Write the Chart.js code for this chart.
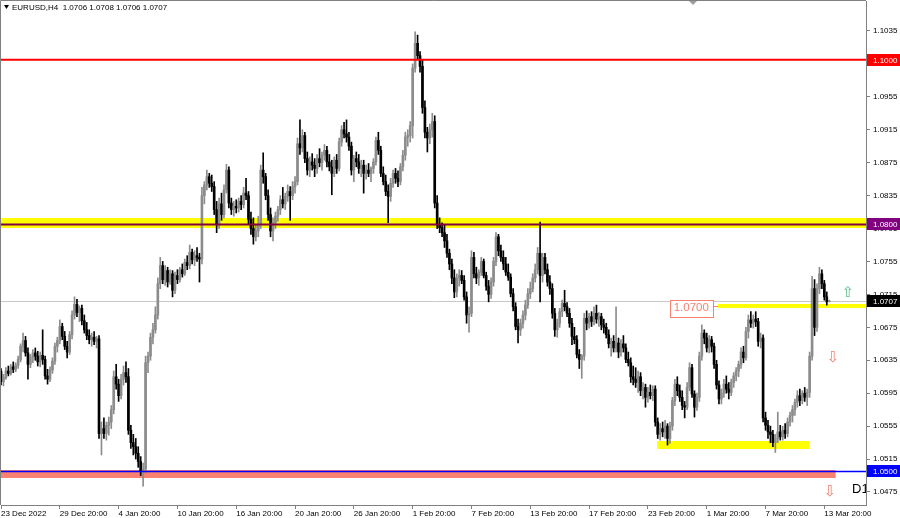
<!DOCTYPE html>
<html><head><meta charset="utf-8">
<script src="https://cdn.jsdelivr.net/npm/chart.js@4.4.1/dist/chart.umd.min.js"></script>
<style>html,body{margin:0;padding:0;background:#fff;}canvas{display:block;}</style>
</head><body>
<canvas id="c" width="900" height="518"></canvas>
<script>
// ---- EURUSD H4 candles ----
const opens = [
1.0622,1.0609,1.0614,1.0622,1.0619,1.0627,1.0624,1.0629,1.0636,1.0652,
1.0659,1.0644,1.0630,1.0638,1.0644,1.0640,1.0633,1.0641,1.0636,1.0616,
1.0612,1.0623,1.0634,1.0652,1.0659,1.0676,1.0664,1.0652,1.0645,1.0666,
1.0690,1.0703,1.0693,1.0698,1.0683,1.0672,1.0665,1.0660,1.0663,1.0658,
1.0661,1.0546,1.0552,1.0546,1.0556,1.0560,1.0575,1.0615,1.0606,1.0592,
1.0612,1.0620,1.0615,1.0550,1.0535,1.0530,1.0522,1.0512,1.0500,1.0503,
1.0632,1.0640,1.0663,1.0672,1.0690,1.0728,1.0750,1.0733,1.0744,1.0730,
1.0740,1.0720,1.0738,1.0733,1.0745,1.0740,1.0754,1.0750,1.0766,1.0757,
1.0762,1.0760,1.0758,1.0835,1.0848,1.0858,1.0850,1.0846,1.0818,1.0800,
1.0825,1.0812,1.0842,1.0866,1.0826,1.0818,1.0822,1.0820,1.0828,1.0824,
1.0838,1.0835,1.0806,1.0795,1.0785,1.0792,1.0800,1.0866,1.0858,1.0835,
1.0812,1.0792,1.0802,1.0810,1.0818,1.0830,1.0825,1.0834,1.0840,1.0835,
1.0846,1.0852,1.0898,1.0893,1.0908,1.0880,1.0866,1.0876,1.0872,1.0868,
1.0880,1.0875,1.0884,1.0890,1.0876,1.0870,1.0862,1.0878,1.0868,1.0900,
1.0915,1.0910,1.0906,1.0895,1.0866,1.0880,1.0876,1.0868,1.0872,1.0862,
1.0866,1.0862,1.0868,1.0876,1.0902,1.0890,1.0862,1.0852,1.0840,1.0834,
1.0850,1.0862,1.0856,1.0852,1.0870,1.0884,1.0906,1.0908,1.0920,1.0990,
1.1020,1.1005,1.0992,1.0942,1.0912,1.0905,1.0915,1.0925,1.0826,1.0800,
1.0796,1.0790,1.0780,1.0765,1.0752,1.0735,1.0718,1.0735,1.0738,1.0732,
1.0712,1.0690,1.0692,1.0760,1.0740,1.0735,1.0742,1.0755,1.0738,1.0725,
1.0715,1.0730,1.0755,1.0785,1.0768,1.0760,1.0752,1.0742,1.0736,1.0716,
1.0700,1.0676,1.0672,1.0680,1.0690,1.0702,1.0716,1.0722,1.0735,1.0745,
1.0765,1.0738,1.0760,1.0745,1.0730,1.0722,1.0692,1.0672,1.0680,1.0694,
1.0704,1.0700,1.0692,1.0680,1.0664,1.0660,1.0642,1.0636,1.0640,1.0686,
1.0680,1.0688,1.0682,1.0692,1.0685,1.0688,1.0678,1.0675,1.0666,1.0655,
1.0658,1.0650,1.0656,1.0645,1.0655,1.0650,1.0636,1.0632,1.0615,1.0612,
1.0608,1.0615,1.0598,1.0602,1.0590,1.0596,1.0592,1.0600,1.0560,1.0545,
1.0552,1.0548,1.0555,1.0540,1.0555,1.0586,1.0606,1.0598,1.0590,1.0580,
1.0578,1.0602,1.0626,1.0594,1.0578,1.0590,1.0640,1.0668,1.0662,1.0650,
1.0660,1.0652,1.0630,1.0605,1.0588,1.0595,1.0606,1.0600,1.0596,1.0608,
1.0616,1.0622,1.0630,1.0645,1.0638,1.0670,1.0684,1.0680,1.0685,1.0682,
1.0658,1.0662,1.0565,1.0556,1.0548,1.0545,1.0535,1.0540,1.0548,1.0542,
1.0550,1.0546,1.0560,1.0568,1.0575,1.0584,1.0592,1.0586,1.0595,1.0590,
1.0596,1.0640,1.0722,1.0675,1.0722,1.0740,1.0728,1.0712,1.0706];
const highs = [
1.0625,1.0618,1.0626,1.0628,1.0630,1.0633,1.0632,1.0640,1.0655,1.0668,
1.0664,1.0650,1.0642,1.0648,1.0650,1.0646,1.0645,1.0672,1.0640,1.0624,
1.0627,1.0638,1.0656,1.0663,1.0684,1.0680,1.0670,1.0658,1.0670,1.0695,
1.0712,1.0709,1.0701,1.0702,1.0690,1.0681,1.0672,1.0668,1.0670,1.0664,
1.0665,1.0560,1.0565,1.0560,1.0566,1.0580,1.0622,1.0630,1.0612,1.0618,
1.0628,1.0633,1.0625,1.0556,1.0545,1.0540,1.0530,1.0518,1.0510,1.0640,
1.0645,1.0668,1.0680,1.0700,1.0735,1.0760,1.0755,1.0750,1.0748,1.0745,
1.0744,1.0742,1.0745,1.0748,1.0752,1.0758,1.0762,1.0775,1.0770,1.0768,
1.0772,1.0765,1.0845,1.0852,1.0866,1.0862,1.0860,1.0852,1.0828,1.0832,
1.0838,1.0848,1.0873,1.0870,1.0832,1.0828,1.0830,1.0832,1.0835,1.0845,
1.0856,1.0840,1.0815,1.0808,1.0800,1.0810,1.0872,1.0887,1.0862,1.0842,
1.0820,1.0808,1.0815,1.0822,1.0835,1.0845,1.0838,1.0848,1.0846,1.0852,
1.0858,1.0905,1.0927,1.0915,1.0912,1.0888,1.0882,1.0886,1.0880,1.0885,
1.0892,1.0888,1.0897,1.0895,1.0885,1.0878,1.0882,1.0885,1.0905,1.0920,
1.0924,1.0927,1.0912,1.0900,1.0884,1.0888,1.0885,1.0878,1.0878,1.0872,
1.0874,1.0870,1.0880,1.0906,1.0912,1.0895,1.0870,1.0860,1.0848,1.0856,
1.0866,1.0868,1.0865,1.0874,1.0890,1.0912,1.0915,1.0925,1.0995,1.1034,
1.1030,1.1010,1.1000,1.0950,1.0918,1.0922,1.0935,1.0932,1.0835,1.0808,
1.0802,1.0800,1.0788,1.0770,1.0758,1.0745,1.0740,1.0745,1.0744,1.0738,
1.0718,1.0700,1.0768,1.0766,1.0748,1.0745,1.0760,1.0758,1.0742,1.0732,
1.0735,1.0760,1.0790,1.0788,1.0775,1.0768,1.0760,1.0752,1.0740,1.0722,
1.0705,1.0685,1.0685,1.0695,1.0708,1.0722,1.0730,1.0740,1.0752,1.0772,
1.0803,1.0765,1.0765,1.0752,1.0738,1.0728,1.0698,1.0685,1.0698,1.0708,
1.0720,1.0705,1.0698,1.0686,1.0675,1.0665,1.0648,1.0642,1.0692,1.0695,
1.0692,1.0694,1.0700,1.0702,1.0693,1.0692,1.0685,1.0680,1.0672,1.0662,
1.0665,1.0700,1.0662,1.0660,1.0665,1.0655,1.0645,1.0638,1.0628,1.0626,
1.0622,1.0620,1.0608,1.0606,1.0602,1.0605,1.0604,1.0604,1.0565,1.0558,
1.0560,1.0562,1.0558,1.0560,1.0590,1.0612,1.0615,1.0605,1.0598,1.0585,
1.0608,1.0632,1.0630,1.0598,1.0595,1.0645,1.0678,1.0672,1.0668,1.0665,
1.0664,1.0656,1.0635,1.0610,1.0600,1.0612,1.0616,1.0608,1.0612,1.0620,
1.0626,1.0634,1.0650,1.0652,1.0675,1.0690,1.0694,1.0690,1.0694,1.0686,
1.0668,1.0666,1.0572,1.0562,1.0555,1.0550,1.0545,1.0572,1.0556,1.0555,
1.0558,1.0565,1.0572,1.0580,1.0588,1.0598,1.0600,1.0598,1.0602,1.0600,
1.0645,1.0737,1.0733,1.0728,1.0748,1.0745,1.0732,1.0718,1.0708];
const lows = [
1.0605,1.0604,1.0612,1.0616,1.0617,1.0620,1.0621,1.0625,1.0633,1.0645,
1.0640,1.0612,1.0626,1.0632,1.0635,1.0628,1.0627,1.0630,1.0612,1.0606,
1.0609,1.0619,1.0630,1.0645,1.0655,1.0660,1.0648,1.0638,1.0642,1.0661,
1.0685,1.0688,1.0682,1.0678,1.0668,1.0660,1.0655,1.0652,1.0654,1.0650,
1.0540,1.0520,1.0540,1.0538,1.0544,1.0552,1.0570,1.0600,1.0585,1.0588,
1.0605,1.0608,1.0545,1.0528,1.0520,1.0515,1.0505,1.0495,1.0482,1.0498,
1.0620,1.0635,1.0655,1.0668,1.0685,1.0722,1.0728,1.0726,1.0724,1.0727,
1.0712,1.0716,1.0728,1.0730,1.0736,1.0738,1.0745,1.0746,1.0752,1.0750,
1.0755,1.0730,1.0752,1.0825,1.0842,1.0845,1.0840,1.0812,1.0790,1.0795,
1.0805,1.0808,1.0838,1.0820,1.0812,1.0810,1.0814,1.0815,1.0818,1.0820,
1.0830,1.0800,1.0788,1.0776,1.0780,1.0785,1.0795,1.0850,1.0830,1.0805,
1.0785,1.0780,1.0795,1.0804,1.0812,1.0820,1.0818,1.0828,1.0805,1.0830,
1.0838,1.0848,1.0885,1.0888,1.0875,1.0860,1.0858,1.0866,1.0858,1.0862,
1.0870,1.0866,1.0878,1.0870,1.0865,1.0836,1.0858,1.0862,1.0865,1.0895,
1.0905,1.0900,1.0890,1.0860,1.0852,1.0870,1.0862,1.0858,1.0838,1.0855,
1.0858,1.0852,1.0862,1.0872,1.0885,1.0858,1.0848,1.0835,1.0802,1.0828,
1.0845,1.0850,1.0846,1.0848,1.0865,1.0878,1.0895,1.0900,1.0905,1.0985,
1.1000,1.0985,1.0935,1.0905,1.0888,1.0898,1.0906,1.0820,1.0795,1.0790,
1.0785,1.0772,1.0760,1.0745,1.0728,1.0711,1.0712,1.0725,1.0728,1.0708,
1.0680,1.0669,1.0688,1.0735,1.0728,1.0726,1.0738,1.0735,1.0720,1.0706,
1.0710,1.0725,1.0750,1.0762,1.0755,1.0745,1.0738,1.0732,1.0712,1.0695,
1.0672,1.0656,1.0665,1.0674,1.0684,1.0698,1.0710,1.0718,1.0730,1.0740,
1.0706,1.0730,1.0740,1.0725,1.0715,1.0686,1.0664,1.0663,1.0675,1.0688,
1.0695,1.0688,1.0675,1.0654,1.0655,1.0638,1.0625,1.0613,1.0635,1.0672,
1.0674,1.0676,1.0678,1.0680,1.0676,1.0672,1.0668,1.0662,1.0650,1.0640,
1.0645,1.0645,1.0638,1.0640,1.0645,1.0632,1.0628,1.0608,1.0605,1.0602,
1.0596,1.0592,1.0588,1.0578,1.0584,1.0588,1.0586,1.0555,1.0540,1.0538,
1.0542,1.0540,1.0532,1.0534,1.0550,1.0580,1.0592,1.0585,1.0575,1.0565,
1.0575,1.0598,1.0590,1.0566,1.0574,1.0585,1.0635,1.0655,1.0645,1.0644,
1.0645,1.0625,1.0600,1.0582,1.0582,1.0590,1.0595,1.0588,1.0592,1.0602,
1.0610,1.0615,1.0625,1.0632,1.0635,1.0662,1.0675,1.0674,1.0676,1.0652,
1.0650,1.0560,1.0550,1.0540,1.0535,1.0530,1.0523,1.0535,1.0538,1.0538,
1.0540,1.0542,1.0555,1.0560,1.0568,1.0578,1.0580,1.0582,1.0585,1.0580,
1.0590,1.0635,1.0665,1.0670,1.0716,1.0722,1.0708,1.0702,1.0706];
const closes = [
1.0609,1.0614,1.0622,1.0619,1.0627,1.0624,1.0629,1.0636,1.0652,1.0659,
1.0644,1.0630,1.0638,1.0644,1.0640,1.0633,1.0641,1.0636,1.0616,1.0612,
1.0623,1.0634,1.0652,1.0659,1.0676,1.0664,1.0652,1.0645,1.0666,1.0690,
1.0703,1.0693,1.0698,1.0683,1.0672,1.0665,1.0660,1.0663,1.0658,1.0661,
1.0546,1.0552,1.0546,1.0556,1.0560,1.0575,1.0615,1.0606,1.0592,1.0612,
1.0620,1.0615,1.0550,1.0535,1.0530,1.0522,1.0512,1.0500,1.0503,1.0632,
1.0640,1.0663,1.0672,1.0690,1.0728,1.0750,1.0733,1.0744,1.0730,1.0740,
1.0720,1.0738,1.0733,1.0745,1.0740,1.0754,1.0750,1.0766,1.0757,1.0762,
1.0760,1.0758,1.0835,1.0848,1.0858,1.0850,1.0846,1.0818,1.0800,1.0825,
1.0812,1.0842,1.0866,1.0826,1.0818,1.0822,1.0820,1.0828,1.0824,1.0838,
1.0835,1.0806,1.0795,1.0785,1.0792,1.0800,1.0866,1.0858,1.0835,1.0812,
1.0792,1.0802,1.0810,1.0818,1.0830,1.0825,1.0834,1.0840,1.0835,1.0846,
1.0852,1.0898,1.0893,1.0908,1.0880,1.0866,1.0876,1.0872,1.0868,1.0880,
1.0875,1.0884,1.0890,1.0876,1.0870,1.0862,1.0878,1.0868,1.0900,1.0915,
1.0910,1.0906,1.0895,1.0866,1.0880,1.0876,1.0868,1.0872,1.0862,1.0866,
1.0862,1.0868,1.0876,1.0902,1.0890,1.0862,1.0852,1.0840,1.0834,1.0850,
1.0862,1.0856,1.0852,1.0870,1.0884,1.0906,1.0908,1.0920,1.0990,1.1020,
1.1005,1.0992,1.0942,1.0912,1.0905,1.0915,1.0925,1.0826,1.0800,1.0796,
1.0790,1.0780,1.0765,1.0752,1.0735,1.0718,1.0735,1.0738,1.0732,1.0712,
1.0690,1.0692,1.0760,1.0740,1.0735,1.0742,1.0755,1.0738,1.0725,1.0715,
1.0730,1.0755,1.0785,1.0768,1.0760,1.0752,1.0742,1.0736,1.0716,1.0700,
1.0676,1.0672,1.0680,1.0690,1.0702,1.0716,1.0722,1.0735,1.0745,1.0765,
1.0738,1.0760,1.0745,1.0730,1.0722,1.0692,1.0672,1.0680,1.0694,1.0704,
1.0700,1.0692,1.0680,1.0664,1.0660,1.0642,1.0636,1.0640,1.0686,1.0680,
1.0688,1.0682,1.0692,1.0685,1.0688,1.0678,1.0675,1.0666,1.0655,1.0658,
1.0650,1.0656,1.0645,1.0655,1.0650,1.0636,1.0632,1.0615,1.0612,1.0608,
1.0615,1.0598,1.0602,1.0590,1.0596,1.0592,1.0600,1.0560,1.0545,1.0552,
1.0548,1.0555,1.0540,1.0555,1.0586,1.0606,1.0598,1.0590,1.0580,1.0578,
1.0602,1.0626,1.0594,1.0578,1.0590,1.0640,1.0668,1.0662,1.0650,1.0660,
1.0652,1.0630,1.0605,1.0588,1.0595,1.0606,1.0600,1.0596,1.0608,1.0616,
1.0622,1.0630,1.0645,1.0638,1.0670,1.0684,1.0680,1.0685,1.0682,1.0658,
1.0662,1.0565,1.0556,1.0548,1.0545,1.0535,1.0540,1.0548,1.0542,1.0550,
1.0546,1.0560,1.0568,1.0575,1.0584,1.0592,1.0586,1.0595,1.0590,1.0596,
1.0640,1.0722,1.0675,1.0722,1.0740,1.0728,1.0712,1.0706,1.0707];

// time axis: one slot per H4 bar, plus empty slots for the right margin
const slotCount = 354;
const tickBars = [0,24,48,72,96,120,144,168,192,216,240,264,288,312,336];
const tickLabels = ["23 Dec 2022","29 Dec 20:00","4 Jan 20:00","10 Jan 20:00","16 Jan 20:00","20 Jan 20:00","26 Jan 20:00","1 Feb 20:00","7 Feb 20:00","13 Feb 20:00","17 Feb 20:00","23 Feb 20:00","1 Mar 20:00","7 Mar 20:00","13 Mar 20:00"];
const priceTicks = [1.0475,1.0515,1.0555,1.0595,1.0635,1.0675,1.0715,1.0755,1.0795,1.0835,1.0875,1.0915,1.0955,1.0995,1.1035];
const priceMin = 1.04592, priceMax = 1.10714;

// levels and zones (price, bar range)
const lineLevels = [1.1000, 1.0800, 1.0500];
const lineColors = ['#ff0000', '#800040', '#0000ff'];
const lineWidths = [2, 2, 1.5];
const labelLevels = [1.1000, 1.0800, 1.0707, 1.0500];
const labelColors = ['#ff0000', '#800080', '#000000', '#0000ff'];
const lastPrice = 1.0707;
const zoneLows  = [1.07957, 1.06986, 1.05272, 1.04920];
const zoneHighs = [1.08078, 1.07034, 1.05369, 1.05017];
const zoneStarts = [-1, 292.6, 267.8, -1];
const zoneEnds   = [400, 400, 329.8, 340.6];
const zoneColors = ['#ffff00', '#ffff00', '#ffff00', '#fa8072'];
const boxLevel = 1.0700;

const bullColor = '#8c8c8c', bearColor = '#000000';
const categories = Array.from({length: slotCount}, (_, i) => i);
const candleColors = closes.map((c, i) => c >= opens[i] ? bullColor : bearColor);

// pick a narrow sans if installed (closest to the small terminal font)
const narrowOK = (() => {
  const c = document.createElement('canvas').getContext('2d');
  c.font = '20px monospace'; const w1 = c.measureText('1.0955 Dec 20:00').width;
  c.font = '20px "Liberation Sans Narrow", monospace'; const w2 = c.measureText('1.0955 Dec 20:00').width;
  return Math.abs(w1 - w2) > 0.5;
})();
const FONT = narrowOK ? '"Liberation Sans Narrow", sans-serif' : '"Liberation Sans", Arial, sans-serif';
const FS = narrowOK ? 9.5 : 8;

const overlay = {
  id: 'overlay',
  beforeDatasetsDraw(chart) {
    const {ctx, chartArea: a, scales: {x, y}} = chart;
    ctx.save();
    ctx.beginPath(); ctx.rect(a.left, a.top, a.right - a.left, a.bottom - a.top); ctx.clip();
    const ly = Math.round(y.getPixelForValue(lastPrice)) + 0.5;
    ctx.strokeStyle = '#c8c8c8'; ctx.lineWidth = 1;
    ctx.beginPath(); ctx.moveTo(a.left, ly); ctx.lineTo(a.right, ly); ctx.stroke();
    for (let k = 0; k < zoneLows.length; k++) {
      const x1 = Math.max(a.left, x.getPixelForValue(zoneStarts[k]));
      const x2 = Math.min(a.right, x.getPixelForValue(zoneEnds[k]));
      const y1 = y.getPixelForValue(zoneHighs[k]);
      const y2 = y.getPixelForValue(zoneLows[k]);
      ctx.fillStyle = zoneColors[k];
      ctx.fillRect(x1, y1, x2 - x1, y2 - y1);
    }
    ctx.restore();
  },
  afterDatasetsDraw(chart) {
    const {ctx, chartArea: a, scales: {x, y}} = chart;
    ctx.save();
    ctx.beginPath(); ctx.rect(a.left, a.top, a.right - a.left, a.bottom - a.top); ctx.clip();
    for (let k = 0; k < lineLevels.length; k++) {
      const py = y.getPixelForValue(lineLevels[k]);
      ctx.strokeStyle = lineColors[k]; ctx.lineWidth = lineWidths[k];
      ctx.beginPath(); ctx.moveTo(a.left, py); ctx.lineTo(a.right, py); ctx.stroke();
    }
    // 1.0700 box label
    const by = y.getPixelForValue(boxLevel);
    const bx1 = x.getPixelForValue(272.9), bx2 = x.getPixelForValue(290.5);
    ctx.fillStyle = '#ffffff';
    ctx.fillRect(bx1, by - 7, bx2 - bx1, 17);
    ctx.strokeStyle = '#fa8072'; ctx.lineWidth = 1;
    ctx.strokeRect(Math.round(bx1) + 0.5, Math.round(by - 7) + 0.5, Math.round(bx2 - bx1), 17);
    ctx.beginPath(); ctx.moveTo(bx2, Math.round(by) - 0.5); ctx.lineTo(x.getPixelForValue(292.6), Math.round(by) - 0.5); ctx.stroke();
    ctx.fillStyle = '#fa8072';
    ctx.font = '11.5px "Liberation Sans", Arial, sans-serif'; ctx.textBaseline = 'middle'; ctx.textAlign = 'center';
    ctx.fillText(boxLevel.toFixed(4), (bx1 + bx2) / 2, by + 1.5);
    // arrows
    ctx.font = '15px "DejaVu Sans"';
    ctx.fillStyle = '#5cbf8a';
    ctx.fillText('\u21E7', 848, 293);
    ctx.fillStyle = '#f08070';
    ctx.fillText('\u21E9', 833, 358);
    ctx.fillText('\u21E9', 830, 492);
    // D1
    ctx.fillStyle = '#000'; ctx.font = '13px "Liberation Sans", Arial, sans-serif'; ctx.textAlign = 'left';
    ctx.fillText('D1', 852, 489);
    ctx.restore();
  },
  afterDraw(chart) {
    const {ctx, chartArea: a, scales: {y}} = chart;
    ctx.save();
    ctx.strokeStyle = '#808080'; ctx.lineWidth = 1;
    ctx.beginPath();
    ctx.moveTo(0.5, a.bottom); ctx.lineTo(0.5, 0.5); ctx.lineTo(a.right, 0.5);
    ctx.stroke();
    ctx.font = FS + 'px ' + FONT; ctx.textBaseline = 'middle'; ctx.textAlign = 'left';
    for (let k = 0; k < labelLevels.length; k++) {
      const py = y.getPixelForValue(labelLevels[k]);
      ctx.fillStyle = labelColors[k];
      ctx.fillRect(a.right + 1, Math.round(py) - 6, 900 - a.right - 1, 12);
      ctx.fillStyle = '#ffffff';
      ctx.fillText(labelLevels[k].toFixed(4), a.right + 7, Math.round(py) + 0.5);
    }
    ctx.fillStyle = '#000';
    ctx.beginPath(); ctx.moveTo(4, 5); ctx.lineTo(9, 5); ctx.lineTo(6.5, 9); ctx.closePath(); ctx.fill();
    ctx.font = FS + 'px ' + FONT; ctx.textBaseline = 'middle';
    ctx.fillText('EURUSD,H4  1.0706 1.0708 1.0706 1.0707', 12, 8);
    ctx.fillStyle = '#a0a0a0';
    ctx.beginPath(); ctx.moveTo(689, 1); ctx.lineTo(697, 1); ctx.lineTo(693, 5); ctx.closePath(); ctx.fill();
    ctx.restore();
  }
};

new Chart(document.getElementById('c'), {
  type: 'bar',
  data: {
    labels: categories,
    datasets: [
      { label: 'wick', data: lows.map((l, i) => [l, highs[i]]), backgroundColor: candleColors,
        barThickness: 1, grouped: false, order: 2, borderWidth: 0 },
      { label: 'body', data: opens.map((o, i) => [Math.min(o, closes[i]), Math.max(o, closes[i])]),
        backgroundColor: candleColors, barThickness: 2, minBarLength: 1, grouped: false, order: 1, borderWidth: 0 }
    ]
  },
  options: {
    responsive: false, animation: false, devicePixelRatio: 1,
    layout: { padding: { left: 1, top: 1, right: 0, bottom: 0 } },
    plugins: { legend: { display: false }, tooltip: { enabled: false } },
    scales: {
      x: {
        type: 'category', offset: false,
        grid: { offset: false, drawOnChartArea: false, drawTicks: true, tickLength: 4, color: '#808080' },
        border: { display: true, color: '#808080' },
        ticks: { autoSkip: false, maxRotation: 0, align: 'start', padding: 0, color: '#000',
          font: { family: FONT, size: FS },
          callback: (v) => { const k = tickBars.indexOf(v); return k >= 0 ? tickLabels[k] : ''; } },
        afterBuildTicks: (s) => { s.ticks = tickBars.map(v => ({ value: v })); },
        afterFit: (s) => { s.height = 13; s.paddingLeft = 0; s.paddingRight = 0; s.paddingTop = 0; s.paddingBottom = 0; }
      },
      y: {
        type: 'linear', position: 'right', min: priceMin, max: priceMax,
        grid: { drawOnChartArea: false, drawTicks: true, tickLength: 4, color: '#808080' },
        border: { display: true, color: '#808080' },
        ticks: { padding: 3, color: '#000', font: { family: FONT, size: FS },
          callback: (v) => Number(v).toFixed(4) },
        afterBuildTicks: (s) => { s.ticks = priceTicks.map(v => ({ value: v })); },
        afterFit: (s) => { s.width = 34; s.paddingLeft = 0; s.paddingRight = 0; s.paddingTop = 0; s.paddingBottom = 0; }
      }
    }
  },
  plugins: [overlay]
});
</script>
</body></html>
